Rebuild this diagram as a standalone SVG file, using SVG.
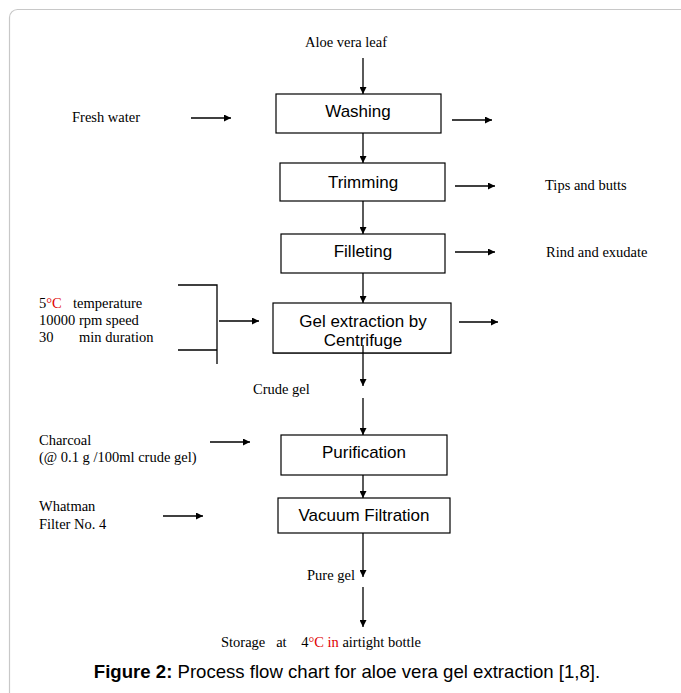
<svg xmlns="http://www.w3.org/2000/svg" width="681" height="693" viewBox="0 0 681 693">
<style>
.box{fill:#fff;stroke:#000;stroke-width:1.2}
.bl{font-family:"Liberation Sans",Arial,sans-serif;font-size:17px;fill:#000;text-anchor:middle}
.t{font-family:"Liberation Serif","Times New Roman",serif;font-size:14.5px;fill:#000}
.red{fill:#e00000}
.c line,.c path{stroke:#000;stroke-width:1.3;fill:none}
.cap{font-family:"Liberation Sans",Arial,sans-serif;font-size:18.6px;fill:#000;text-anchor:middle}
</style>
<defs>
<marker id="ah" viewBox="0 0 10 10" refX="10" refY="5" markerWidth="7" markerHeight="7" markerUnits="userSpaceOnUse" orient="auto">
<path d="M0,0 L10,5 L0,10 z" fill="#000"/>
</marker>
</defs>
<rect x="0" y="0" width="681" height="693" fill="#fff"/>
<rect x="9.5" y="9.5" width="700" height="720" rx="8" ry="8" fill="none" stroke="#c8c8c8" stroke-width="1.2"/>

<g class="c" id="connectors">
<line x1="363" y1="58" x2="363" y2="94" marker-end="url(#ah)"/>
<line x1="191" y1="118" x2="231" y2="118" marker-end="url(#ah)"/>
<line x1="452" y1="120" x2="492" y2="120" marker-end="url(#ah)"/>
<line x1="363" y1="133" x2="363" y2="163" marker-end="url(#ah)"/>
<line x1="455" y1="186" x2="495" y2="186" marker-end="url(#ah)"/>
<line x1="363" y1="201" x2="363" y2="234" marker-end="url(#ah)"/>
<line x1="455" y1="252" x2="495" y2="252" marker-end="url(#ah)"/>
<line x1="363" y1="273" x2="363" y2="303" marker-end="url(#ah)"/>
<path d="M178,285 H217 V364 M178,350 H217"/>
<line x1="219" y1="321" x2="259" y2="321" marker-end="url(#ah)"/>
<line x1="459" y1="322" x2="498" y2="322" marker-end="url(#ah)"/>
<line x1="363" y1="345" x2="363" y2="386" marker-end="url(#ah)"/>
<line x1="363" y1="398" x2="363" y2="435" marker-end="url(#ah)"/>
<line x1="210" y1="442" x2="250" y2="442" marker-end="url(#ah)"/>
<line x1="363" y1="475" x2="363" y2="498" marker-end="url(#ah)"/>
<line x1="163" y1="516" x2="203" y2="516" marker-end="url(#ah)"/>
<line x1="363" y1="533" x2="363" y2="577" marker-end="url(#ah)"/>
<line x1="363" y1="587" x2="363" y2="627" marker-end="url(#ah)"/>
</g>

<g id="aloe"><text class="t" x="346" y="47" text-anchor="middle">Aloe vera leaf</text></g>
<g id="freshwater"><text class="t" x="72" y="122">Fresh water</text></g>
<g id="washing"><rect class="box" x="276" y="94" width="165" height="39"/><text class="bl" x="358" y="117">Washing</text></g>
<g id="trimming"><rect class="box" x="280" y="163" width="165" height="38"/><text class="bl" x="363" y="188">Trimming</text></g>
<g id="tips"><text class="t" x="545" y="190">Tips and butts</text></g>
<g id="filleting"><rect class="box" x="281" y="234" width="164" height="39"/><text class="bl" x="363" y="257">Filleting</text></g>
<g id="rind"><text class="t" x="546" y="257">Rind and exudate</text></g>
<g id="conditions">
<text class="t" x="39" y="308">5<tspan class="red">°C</tspan></text>
<text class="t" x="73" y="308">temperature</text>
<text class="t" x="39" y="325">10000 rpm speed</text>
<text class="t" x="39" y="342">30</text>
<text class="t" x="79" y="342">min duration</text>
</g>
<g id="gelextraction"><rect class="box" x="273" y="303" width="178" height="50"/>
<text class="bl" x="363" y="327">Gel extraction by</text>
<text class="bl" x="363" y="346">Centrifuge</text>
<rect x="274" y="349" width="176" height="3.4" fill="#fff"/>
<line x1="273" y1="353" x2="451" y2="353" stroke="#000" stroke-width="1.2"/>
<line x1="363" y1="345" x2="363" y2="353" stroke="#000" stroke-width="1.3"/>
</g>
<g id="crudegel"><text class="t" x="253" y="394">Crude gel</text></g>
<g id="charcoal">
<text class="t" x="39" y="445">Charcoal</text>
<text class="t" x="39" y="462">(@ 0.1 g /100ml crude gel)</text>
</g>
<g id="purification"><rect class="box" x="281" y="435" width="166" height="40"/><text class="bl" x="364" y="458">Purification</text></g>
<g id="whatman">
<text class="t" x="39" y="511">Whatman</text>
<text class="t" x="39" y="529">Filter No. 4</text>
</g>
<g id="vacuum"><rect class="box" x="278" y="498" width="172" height="35"/><text class="bl" x="364" y="521">Vacuum Filtration</text></g>
<g id="puregel"><text class="t" x="307" y="580">Pure gel</text></g>
<g id="storage"><text class="t" x="221" y="647" xml:space="preserve">Storage   at    4<tspan class="red">°C in</tspan> airtight bottle</text></g>
<g id="caption"><text class="cap" x="347" y="678"><tspan font-weight="bold">Figure 2:</tspan> Process flow chart for aloe vera gel extraction [1,8].</text></g>
</svg>
